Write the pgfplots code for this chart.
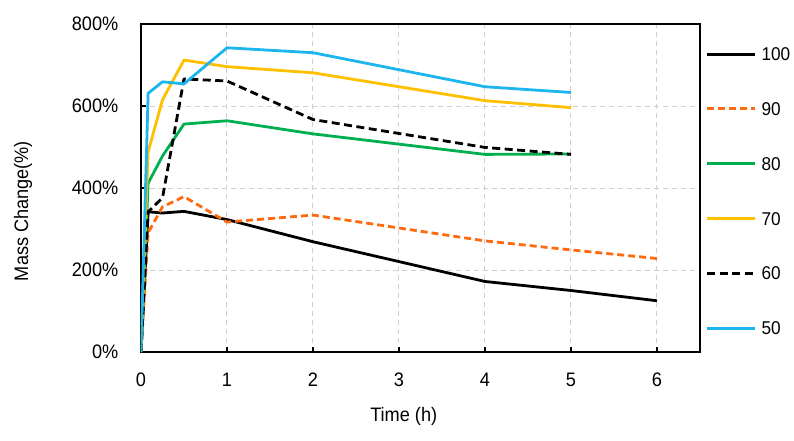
\documentclass[border=0pt]{standalone}
\usepackage{fontspec}
\setmainfont{Liberation Sans}[FakeStretch=0.93]
\usepackage{pgfplots}
\pgfplotsset{compat=1.18}
\definecolor{cOrange}{HTML}{FF6A10}
\definecolor{cGreen}{HTML}{00B050}
\definecolor{cYellow}{HTML}{FFC000}
\definecolor{cBlue}{HTML}{1CB5EE}
\definecolor{cGrid}{HTML}{D0D0D0}
\begin{document}
\fontsize{19.5}{22}\selectfont
\begin{tikzpicture}
\begin{axis}[
  scale only axis, width=559pt, height=328pt,
  xmin=0, xmax=6.5, ymin=0, ymax=800,
  xtick={0,1,2,3,4,5,6}, ytick={0,200,400,600,800},
  yticklabel={\pgfmathprintnumber{\tick}\%},
  font=\fontsize{19.5}{22}\selectfont,
  /pgf/number format/assume math mode=true,
  tick align=inside, major tick length=5pt,
  xtick pos=bottom, ytick pos=left,
  tick style={black, line width=1.2pt},
  axis line style={black, line width=1.3pt},
  grid=major,
  major grid style={cGrid, dash pattern=on 5pt off 4pt, line width=1pt},
  xticklabel style={yshift=-14pt},
  yticklabel style={xshift=-16pt},
  xlabel={Time (h)},
  ylabel={Mass Change(\%)},
  xlabel style={at={(axis description cs:0.47,-0.198)}, anchor=center},
  ylabel style={at={(axis description cs:-0.211,0.43)}, anchor=center, rotate=0},
  legend style={at={(axis description cs:1.01,0.934)}, anchor=north west,
    draw=none, fill=none, inner sep=0pt, outer sep=0pt,
    font=\fontsize{18.5}{21}\selectfont,
    row sep=37.8pt, column sep=3pt,
    nodes={inner sep=2pt, text height=13pt, text depth=0pt}},
  legend cell align=left,
  legend image code/.code={\draw[#1, line width=3pt] (0pt,0pt) -- (48pt,0pt);},
]
\addplot[black, line width=2.8pt, line join=round] coordinates {(0,0) (0.083,342) (0.25,339) (0.5,343) (1,323) (2,269) (4,172) (5,150) (6,125)};
\addlegendentry{100}
\addplot[cOrange, line width=2.8pt, line join=round, dash pattern=on 7pt off 4pt] coordinates {(0,0) (0.083,291) (0.25,354) (0.5,379) (1,317) (2,334) (4,271) (5,249) (6,228)};
\addlegendentry{90}
\addplot[cGreen, line width=2.8pt, line join=round] coordinates {(0,0) (0.083,412) (0.25,478) (0.5,556) (1,564) (2,532) (4,482) (5,483)};
\addlegendentry{80}
\addplot[cYellow, line width=2.8pt, line join=round] coordinates {(0,0) (0.083,488) (0.25,615) (0.5,712) (1,696) (2,681) (4,613) (5,596)};
\addlegendentry{70}
\addplot[black, line width=2.8pt, line join=round, dash pattern=on 8pt off 4.5pt] coordinates {(0,0) (0.083,342) (0.25,376) (0.5,666) (1,661) (2,567) (4,499) (5,482)};
\addlegendentry{60}
\addplot[cBlue, line width=2.8pt, line join=round] coordinates {(0,0) (0.083,631) (0.25,659) (0.5,654) (1,742) (2,730) (4,647) (5,633)};
\addlegendentry{50}
\end{axis}
\pgfresetboundingbox
\path[use as bounding box] (-141pt,-88pt) rectangle (653pt,352pt);
\end{tikzpicture}
\end{document}
